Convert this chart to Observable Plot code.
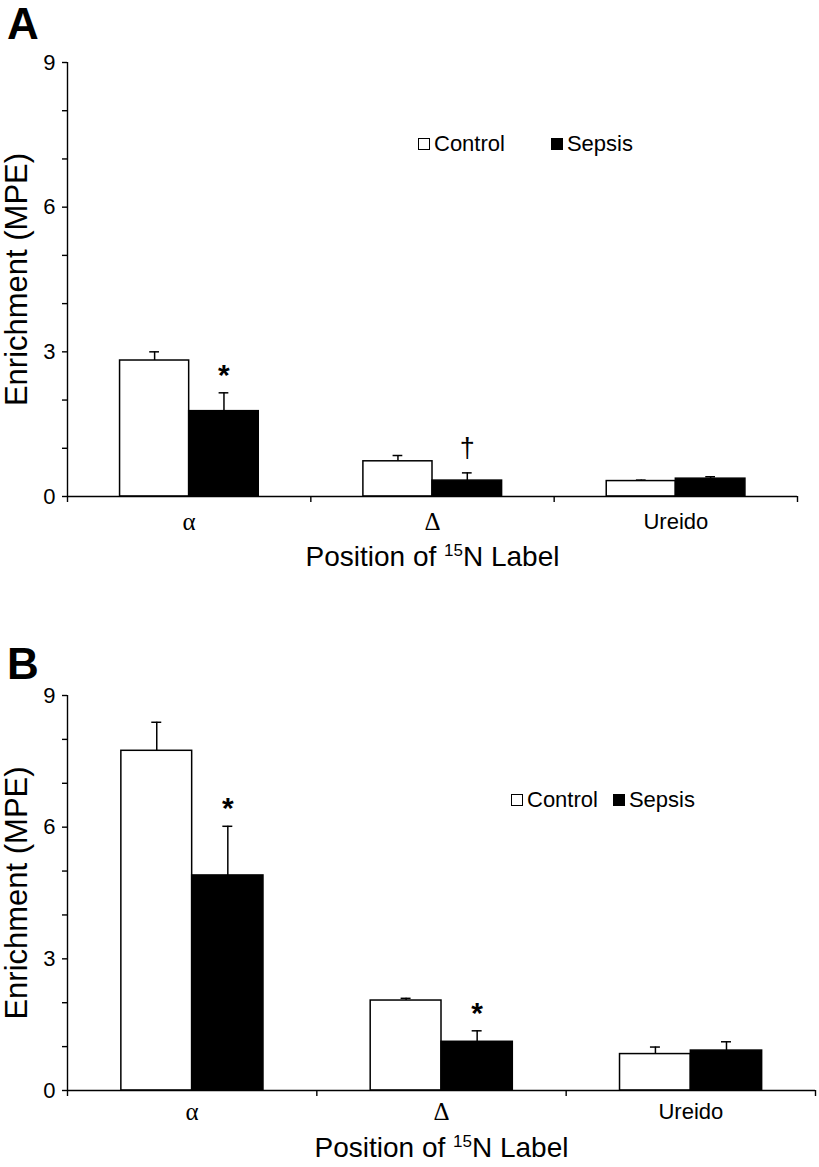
<!DOCTYPE html>
<html>
<head>
<meta charset="utf-8">
<script src="https://cdn.jsdelivr.net/npm/d3@7"></script>
<script src="https://cdn.jsdelivr.net/npm/@observablehq/plot@0.6"></script>
<style>
  html, body { margin: 0; padding: 0; background: #fff; }
  #fig { position: relative; width: 819px; height: 1167px; font-family: "Liberation Sans", Arial, sans-serif; }
  .panel { position: relative; width: 819px; }
  .panel svg { display: block; }
  .letter { position: absolute; left: 7px; font-weight: bold; font-size: 44px; line-height: 44px; color: #000; }
  .legend { position: absolute; display: flex; align-items: center; font-size: 22px; line-height: 22px; color: #000; }
  .legend .sw { display: inline-block; width: 10px; height: 10px; border: 1.5px solid #000; margin-right: 4px; }
  .legend .item { display: flex; align-items: center; }
</style>
</head>
<body>
<div id="fig"></div>
<script>
// ---- data ----
const categories = ["α", "Δ", "Ureido"];
const groups = ["Control", "Sepsis"];

const panelA_control    = [2.82, 0.73, 0.32];
const panelA_controlErr = [0.18, 0.12, 0.02];
const panelA_sepsis     = [1.77, 0.33, 0.37];
const panelA_sepsisErr  = [0.38, 0.16, 0.04];
const panelA_signif     = ["*", "†", ""];

const panelB_control    = [7.74, 2.05, 0.83];
const panelB_controlErr = [0.65, 0.05, 0.16];
const panelB_sepsis     = [4.90, 1.11, 0.91];
const panelB_sepsisErr  = [1.12, 0.25, 0.20];
const panelB_signif     = ["*", "*", ""];

const yTicks = [0, 1, 2, 3, 4, 5, 6, 7, 8, 9];
const yLabelled = [0, 3, 6, 9];

// layout constants (fraction of category band)
const barSpan = {Control: [0.216, 0.5], Sepsis: [0.5, 0.786]};
const capHalf = 0.02;

function rows(ctrl, ctrlErr, seps, sepsErr, signif) {
  const out = [];
  categories.forEach((c, i) => {
    out.push({cat: c, i, group: "Control", value: ctrl[i], err: ctrlErr[i], mark: ""});
    out.push({cat: c, i, group: "Sepsis", value: seps[i], err: sepsErr[i], mark: signif[i]});
  });
  out.forEach(d => {
    d.x1 = d.i + barSpan[d.group][0];
    d.x2 = d.i + barSpan[d.group][1];
    d.xc = (d.x1 + d.x2) / 2;
    d.top = d.value + d.err;
  });
  return out;
}

const sans = "Liberation Sans, Arial, sans-serif";
const serif = "Liberation Serif, Times New Roman, serif";

function panel(data, opt) {
  const catData = categories.map((c, i) => ({c, x: i + 0.5}));
  const plot = Plot.plot({
    width: 819,
    height: opt.height,
    marginTop: opt.marginTop,
    marginBottom: opt.marginBottom,
    marginLeft: 67,
    marginRight: opt.marginRight,
    style: {fontFamily: sans, color: "#000", background: "white"},
    x: {domain: [0, 3], axis: null},
    y: {domain: [0, 9], axis: null},
    color: {domain: groups, range: ["white", "black"]},
    marks: [
      Plot.ruleX(data, {x: "xc", y1: "value", y2: "top", stroke: "black", strokeWidth: 1.5}),
      Plot.ruleY(data, {y: "top", x1: d => d.xc - capHalf, x2: d => d.xc + capHalf, stroke: "black", strokeWidth: 1.5}),
      Plot.rectY(data, {x1: "x1", x2: "x2", y1: 0, y2: "value", fill: "group", stroke: "black", strokeWidth: 1.5}),
      // axes
      Plot.ruleX([0], {stroke: "black", strokeWidth: 1.4}),
      Plot.ruleY([0], {stroke: "black", strokeWidth: 1.4}),
      Plot.axisY({ticks: yTicks, tickFormat: d => yLabelled.includes(d) ? String(d) : "", tickSize: 5, tickPadding: 7, fontSize: 22, label: null, strokeWidth: 1.4}),
      Plot.axisX({ticks: [0, 1, 2, 3], tickFormat: () => "", tickSize: 6, label: null, strokeWidth: 1.4}),
      // category labels
      Plot.text(catData.filter(d => d.c !== "Ureido"), {x: "x", text: "c", frameAnchor: "bottom", dy: opt.catDy, lineAnchor: "middle", fontSize: 25, fontFamily: serif}),
      Plot.text(catData.filter(d => d.c === "Ureido"), {x: "x", text: "c", frameAnchor: "bottom", dy: opt.catDy, lineAnchor: "middle", fontSize: 22}),
      // significance marks
      Plot.text(data.filter(d => d.mark === "*"), {x: "xc", y: "top", text: "mark", dy: -8, lineAnchor: "bottom", fontSize: 30, fontWeight: "bold"}),
      Plot.text(data.filter(d => d.mark === "†"), {x: "xc", y: "top", text: "mark", dy: -16, lineAnchor: "bottom", fontSize: 27}),
      // axis titles
      Plot.text(["Enrichment (MPE)"], {frameAnchor: "left", dx: -50, rotate: -90, textAnchor: "middle", lineAnchor: "middle", fontSize: 31}),
      Plot.text(["Position of 15N Label"], {frameAnchor: "bottom", dy: opt.titleDy, lineAnchor: "bottom", fontSize: 28})
    ]
  });
  // superscript 15
  d3.select(plot).selectAll("text").filter(function() { return this.textContent === "Position of 15N Label"; })
    .each(function() {
      const t = d3.select(this);
      t.text("");
      t.append("tspan").text("Position of ");
      t.append("tspan").attr("font-size", 17).attr("dy", -10).text("15");
      t.append("tspan").attr("dy", 10).text("N Label");
    });
  return plot;
}

const fig = document.getElementById("fig");

function addPanel(letter, letterTop, legendLeft, legendTop, legendGap, data, opt) {
  const div = document.createElement("div");
  div.className = "panel";
  div.appendChild(panel(data, opt));
  const L = document.createElement("div");
  L.className = "letter";
  L.style.top = letterTop + "px";
  L.textContent = letter;
  div.appendChild(L);
  const leg = document.createElement("div");
  leg.className = "legend";
  leg.style.left = legendLeft + "px";
  leg.style.top = legendTop + "px";
  groups.forEach((g, k) => {
    const it = document.createElement("span");
    it.className = "item";
    if (k > 0) it.style.marginLeft = legendGap + "px";
    const sw = document.createElement("span");
    sw.className = "sw";
    sw.style.background = g === "Control" ? "white" : "black";
    it.appendChild(sw);
    const tx = document.createElement("span");
    tx.textContent = g;
    it.appendChild(tx);
    leg.appendChild(it);
  });
  div.appendChild(leg);
  fig.appendChild(div);
}

addPanel("A", 2, 418, 133, 46,
  rows(panelA_control, panelA_controlErr, panelA_sepsis, panelA_sepsisErr, panelA_signif),
  {height: 583, marginTop: 62, marginBottom: 87, marginRight: 22, catDy: 25, titleDy: 69});

addPanel("B", 59, 511, 206, 15,
  rows(panelB_control, panelB_controlErr, panelB_sepsis, panelB_sepsisErr, panelB_signif),
  {height: 584, marginTop: 112, marginBottom: 77, marginRight: 4, catDy: 21, titleDy: 66});
</script>
</body>
</html>
